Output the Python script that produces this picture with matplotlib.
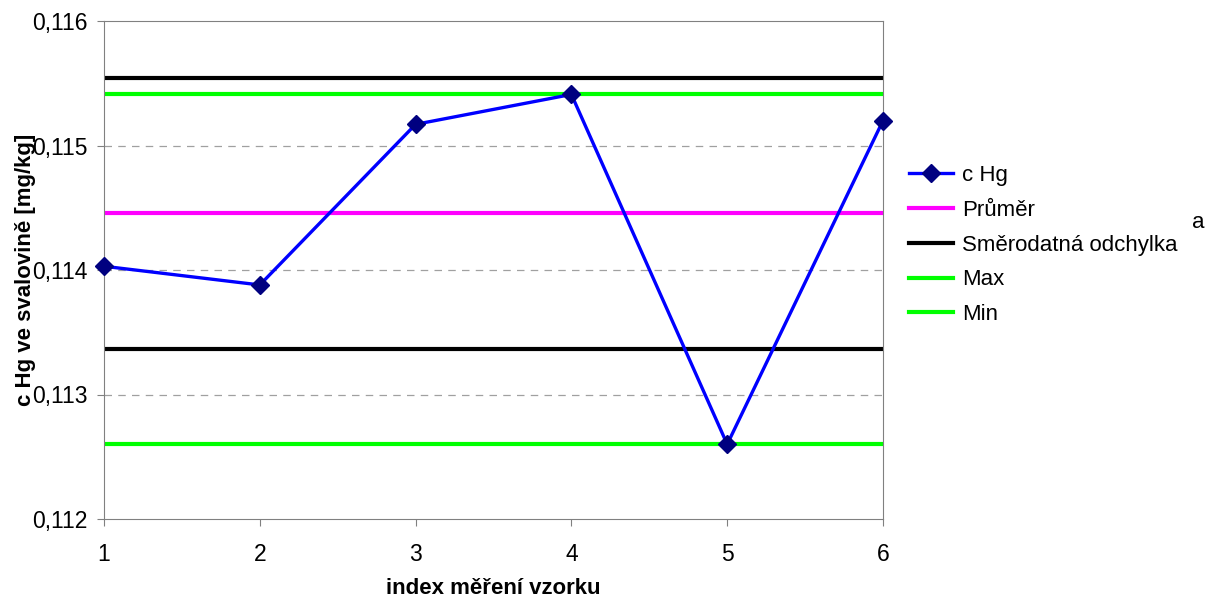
import matplotlib
matplotlib.use("Agg")
import matplotlib.pyplot as plt
from matplotlib.ticker import FuncFormatter

# Measured mercury concentration per sample index
sample_index = [1, 2, 3, 4, 5, 6]
c_hg = [0.11403, 0.11388, 0.11517, 0.11541, 0.11260, 0.11520]

mean_value = 0.114458
std_upper = 0.115542
std_lower = 0.113365
max_value = 0.11541
min_value = 0.11260

y_ticks = [0.112, 0.113, 0.114, 0.115, 0.116]

plt.rcParams["font.family"] = ["Liberation Sans", "DejaVu Sans"]

fig = plt.figure(figsize=(12.08, 5.99), dpi=100)
ax = fig.add_axes([104 / 1208, 1 - 519 / 599, (883 - 104) / 1208, (519 - 21) / 599])

ax.plot(sample_index, c_hg, color="#0000ff", lw=2.4, marker="D", ms=9,
        mfc="#000080", mec="#000080", label="c Hg", zorder=5, clip_on=False)
ax.axhline(mean_value, color="#ff00ff", lw=3, label="Průměr")
ax.axhline(std_upper, color="black", lw=3, label="Směrodatná odchylka")
ax.axhline(std_lower, color="black", lw=3)
ax.axhline(max_value, color="#00ff00", lw=3, label="Max")
ax.axhline(min_value, color="#00ff00", lw=3, label="Min")

ax.set_xlim(1, 6)
ax.set_ylim(0.112, 0.116)
ax.set_xticks(sample_index)
ax.set_yticks(y_ticks)
ax.yaxis.set_major_formatter(FuncFormatter(lambda v, _: f"{v:.3f}".replace(".", ",")))
ax.tick_params(labelsize=16.5, color="#808080", length=5, direction="out")
ax.tick_params(axis="x", pad=12)
ax.tick_params(axis="y", pad=7)
for spine in ax.spines.values():
    spine.set_color("#808080")

for y in y_ticks[1:-1]:
    ax.axhline(y, color="#a0a0a0", lw=0.9, ls=(0, (6, 5)), zorder=0)

ax.set_xlabel("index měření vzorku", fontsize=16, fontweight="bold", labelpad=9)
ax.set_ylabel("c Hg ve svalovině [mg/kg]", fontsize=16, fontweight="bold", labelpad=-3)

ax.legend(loc="center left", bbox_to_anchor=(1.013, 0.550), frameon=False,
          fontsize=16, handlelength=2.0, handletextpad=0.4, labelspacing=0.62,
          borderaxespad=0.3)
fig.text(1198 / 1208, 1 - 222 / 599, "a", fontsize=16, ha="center", va="center")

fig.savefig("out.png", dpi=100)
